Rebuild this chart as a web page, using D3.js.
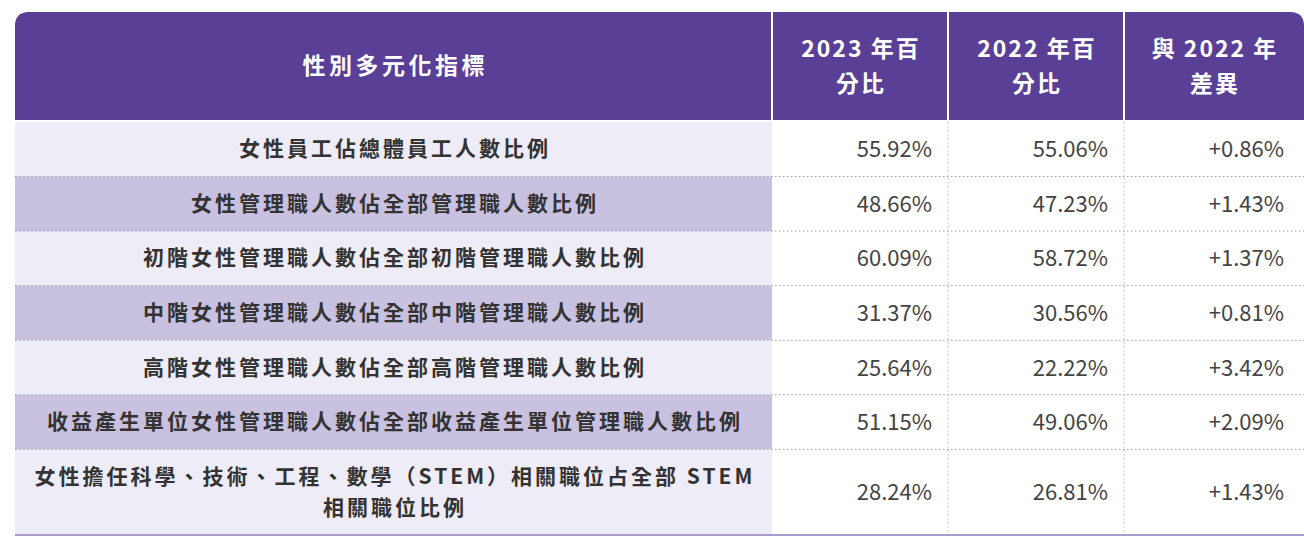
<!DOCTYPE html>
<html><head><meta charset="utf-8">
<script src="https://cdn.jsdelivr.net/npm/d3@7"></script>
<style>
  body { margin: 0; background: #fff; }
  text { font-family: "Noto Sans CJK TC", "Noto Sans", sans-serif; }
</style>
</head><body>
<div id="chart"></div>
<script>
(function () {

  // table data
  const headers = [["性別多元化指標"], ["2023 年百", "分比"], ["2022 年百", "分比"], ["與 2022 年", "差異"]];
  const indicators = [
    ["女性員工佔總體員工人數比例"],
    ["女性管理職人數佔全部管理職人數比例"],
    ["初階女性管理職人數佔全部初階管理職人數比例"],
    ["中階女性管理職人數佔全部中階管理職人數比例"],
    ["高階女性管理職人數佔全部高階管理職人數比例"],
    ["收益產生單位女性管理職人數佔全部收益產生單位管理職人數比例"],
    ["女性擔任科學、技術、工程、數學（STEM）相關職位占全部 STEM", "相關職位比例"]
  ];
  const pct2023 = ["55.92%", "48.66%", "60.09%", "31.37%", "25.64%", "51.15%", "28.24%"];
  const pct2022 = ["55.06%", "47.23%", "58.72%", "30.56%", "22.22%", "49.06%", "26.81%"];
  const diff = ["+0.86%", "+1.43%", "+1.37%", "+0.81%", "+3.42%", "+2.09%", "+1.43%"];

  const W = 1304, H = 552;
  const colEdges = [15, 772, 948, 1124, 1304];
  const numRight = [932, 1108, 1284];
  const headTop = 12, headBottom = 120, bodyTop = 122, bodyBottom = 535;

  // row units: multi-line rows are taller
  const units = indicators.map(d => d.length > 1 ? 1.57 : 1);
  const cum = [0];
  units.forEach(u => cum.push(cum[cum.length - 1] + u));
  const y = d3.scaleLinear().domain([0, cum[cum.length - 1]]).range([bodyTop, bodyBottom]);

  const svg = d3.select("#chart").append("svg").attr("width", W).attr("height", H);

  // header
  svg.append("path")
    .attr("fill", "#5a3f96")
    .attr("d", `M${colEdges[0]},${headBottom} V${headTop + 14} Q${colEdges[0]},${headTop} ${colEdges[0] + 14},${headTop}
      H${W - 14} Q${W},${headTop} ${W},${headTop + 14} V${headBottom} Z`);
  svg.selectAll(".hdiv").data(colEdges.slice(1, 4)).enter().append("line")
    .attr("x1", d => d).attr("x2", d => d).attr("y1", headTop).attr("y2", headBottom)
    .attr("stroke", "#fff").attr("stroke-width", 2);
  headers.forEach((lines, i) => {
    const cx = (colEdges[i] + colEdges[i + 1]) / 2;
    const cy = (headTop + headBottom) / 2;
    const ls = i === 0 ? 3.5 : 2;
    lines.forEach((t, j) => {
      svg.append("text").attr("x", cx + ls / 2).attr("y", cy + (j - (lines.length - 1) / 2) * 35 + 8)
        .attr("text-anchor", "middle").attr("fill", "#fff")
        .attr("letter-spacing", ls)
        .attr("font-size", 23).attr("font-weight", 700).text(t);
    });
  });

  // first column backgrounds
  svg.selectAll(".bg").data(indicators).enter().append("rect")
    .attr("x", colEdges[0]).attr("width", colEdges[1] - colEdges[0])
    .attr("y", (d, i) => y(cum[i])).attr("height", (d, i) => y(cum[i + 1]) - y(cum[i]))
    .attr("fill", (d, i) => i % 2 ? "#c9c1e0" : "#eeecf6");

  // dotted separators
  svg.selectAll(".sep").data(cum.slice(1, -1)).enter().append("line")
    .attr("x1", colEdges[0]).attr("x2", W).attr("y1", d => y(d)).attr("y2", d => y(d))
    .attr("stroke", "#9a9aa6").attr("stroke-width", 1).attr("stroke-dasharray", "1.5,2.5");
  svg.selectAll(".vsep").data(colEdges.slice(2, 4)).enter().append("line")
    .attr("x1", d => d).attr("x2", d => d).attr("y1", bodyTop).attr("y2", bodyBottom)
    .attr("stroke", "#b0b0ba").attr("stroke-width", 1).attr("stroke-dasharray", "1.5,2.5");
  svg.append("line").attr("x1", colEdges[0]).attr("x2", W).attr("y1", bodyBottom).attr("y2", bodyBottom)
    .attr("stroke", "#a79ccc").attr("stroke-width", 2);

  // indicator labels
  indicators.forEach((lines, i) => {
    const cx = (colEdges[0] + colEdges[1]) / 2;
    const cy = (y(cum[i]) + y(cum[i + 1])) / 2;
    lines.forEach((t, j) => {
      svg.append("text").attr("x", cx + 1.5).attr("y", cy + (j - (lines.length - 1) / 2) * 31 + 7)
        .attr("text-anchor", "middle").attr("fill", "#333")
        .attr("letter-spacing", 3)
        .attr("font-size", 21).attr("font-weight", 700).text(t);
    });
  });

  // numeric columns
  [pct2023, pct2022, diff].forEach((col, c) => {
    svg.selectAll(".num" + c).data(col).enter().append("text")
      .attr("x", numRight[c])
      .attr("y", (d, i) => (y(cum[i]) + y(cum[i + 1])) / 2 + 8)
      .attr("text-anchor", "end").attr("fill", "#444")
      .attr("font-family", "Liberation Sans, Arial, sans-serif")
      .attr("font-size", 22).text(d => d);
  });

})();
</script>
</body></html>
